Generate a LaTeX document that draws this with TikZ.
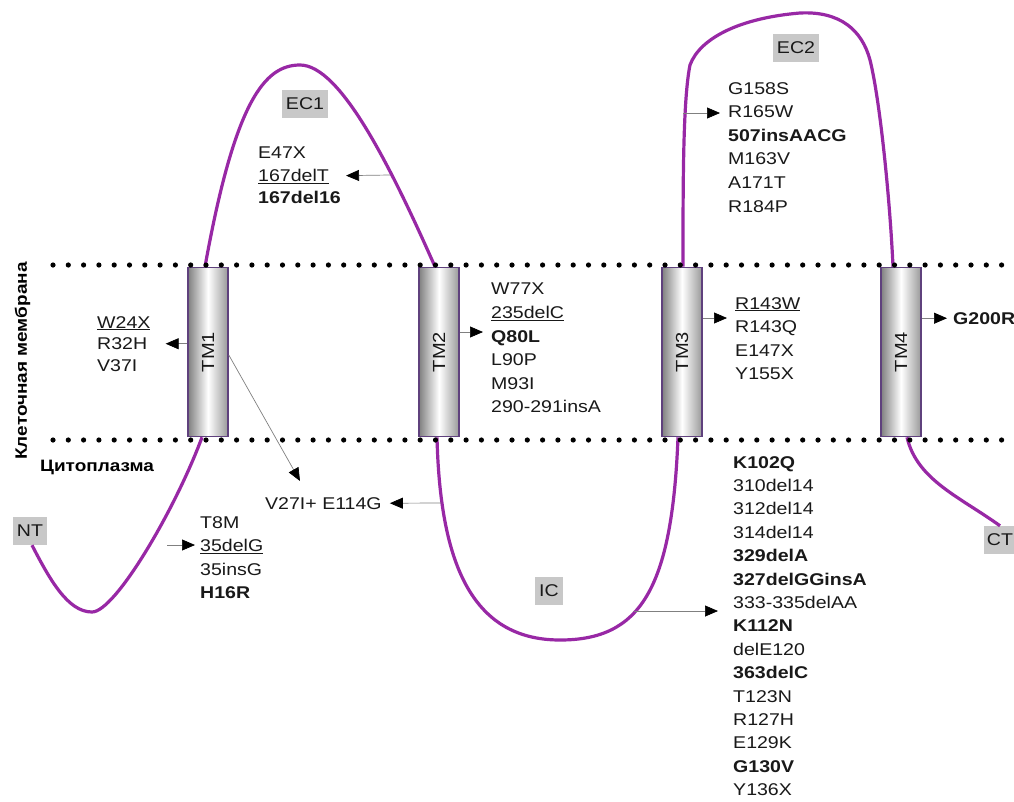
\documentclass[tikz,border=0pt]{standalone}
\usepackage{fontspec}
\setmainfont[FakeStretch=1.15]{Liberation Sans}
\usetikzlibrary{arrows.meta,calc}
\definecolor{loopc}{RGB}{152,40,165}
\definecolor{tmedge}{RGB}{95,65,125}
\definecolor{lblgray}{RGB}{200,200,200}
\definecolor{txt}{RGB}{25,25,25}
\begin{document}
\begin{tikzpicture}[x=1pt,y=-1pt,
 chain/.style={draw=loopc, line width=3.2pt},
 tmbox/.style={draw=tmedge, line width=1.6pt, minimum width=40pt, minimum height=169pt, inner sep=0, left color=black!50, right color=black!40, middle color=white},
 tmlabel/.style={rotate=90, font=\fontsize{17.5}{20}\selectfont, text=txt, inner sep=0},
 lbox/.style={fill=lblgray, font=\fontsize{17}{20}\selectfont, text=txt, inner xsep=4pt, inner ysep=7pt, minimum height=28pt},
 mut/.style={font=\fontsize{17}{23.6}\selectfont, align=left, inner sep=0, anchor=north west, text=txt},
 arr/.style={draw=black!50, line width=0.7pt, -{Triangle[length=13pt,width=11pt,black]}},
 mdot/.style={fill=black}
]
\useasboundingbox[fill=white] (0,0) rectangle (1014,801);

% transmembrane boxes (positions)
\path (208,352) node[tmbox] (tm1) {} (439,352) node[tmbox] (tm2) {}
      (682,352) node[tmbox] (tm3) {} (901,352) node[tmbox] (tm4) {};
% labels
\node[lbox] (nt) at (30,531) {NT};
\node[lbox] (ec1) at (305,104) {EC1};
\node[lbox] (ec2) at (796,48) {EC2};
\node[lbox] (ic) at (549,591) {IC};
\node[lbox, inner xsep=3pt] (ct) at (1000,540) {CT};

% chain
\draw[chain] ($(nt.south)+(2,0)$) .. controls (50,580) and (68,612) .. (92,612)
   .. controls (115,612) and (175,510) .. ($(tm1.south)+(-6,0)$);
\draw[chain] ($(tm1.north)+(-3,0)$) .. controls (235,100) and (265,65) .. (300,65)
   .. controls (340,65) and (390,165) .. ($(tm2.north)+(-4,0)$);
\draw[chain] ($(tm2.south)+(-2,0)$) .. controls (440,560) and (470,640) .. (560,640)
   .. controls (640,640) and (672,590) .. ($(tm3.south)+(-4,0)$);
\draw[chain] ($(tm3.north)+(1,0)$) .. controls (683,180) and (683,100) .. (690,65)
   .. controls (700,38) and (740,18) .. (800,13)
   .. controls (840,11) and (862,30) .. (870,60)
   .. controls (880,100) and (890,200) .. ($(tm4.north)+(-8,0)$);
\draw[chain] ($(tm4.south)+(6,0)$) .. controls (917,480) and (960,497) .. (ct.north);

% redraw boxes on top of chain
\path (208,352) node[tmbox] (tm1b) {} (439,352) node[tmbox] (tm2b) {}
      (682,352) node[tmbox] (tm3b) {} (901,352) node[tmbox] (tm4b) {};
\node[tmlabel] (tm1l) at (tm1) {TM1};
\node[tmlabel] (tm2l) at (tm2) {TM2};
\node[tmlabel] (tm3l) at (tm3) {TM3};
\node[tmlabel] (tm4l) at (tm4) {TM4};

% mutation lists
\node[mut, font=\fontsize{17}{21.5}\selectfont] (w24) at (97,316) {\underline{W24X}\\R32H\\V37I};
\node[mut, font=\fontsize{17}{22.5}\selectfont] (e47) at (258,147) {E47X\\\underline{167delT}\\\textbf{167del16}};
\node[mut] (t8m) at (200,516) {T8M\\\underline{35delG}\\35insG\\\textbf{H16R}};
\node[mut] (v27) at (265,497) {V27I+ E114G};
\node[mut] (w77) at (491,283) {W77X\\\underline{235delC}\\\textbf{Q80L}\\L90P\\M93I\\290-291insA};
\node[mut] (r143) at (735,297) {\underline{R143W}\\R143Q\\E147X\\Y155X};
\node[mut] (g200) at (953,312) {\textbf{G200R}};
\node[mut] (g158) at (728,82) {G158S\\R165W\\\textbf{507insAACG}\\M163V\\A171T\\R184P};
\node[mut, font=\fontsize{17}{23.4}\selectfont] (k102) at (733,456) {\textbf{K102Q}\\310del14\\312del14\\314del14\\\textbf{329delA}\\\textbf{327delGGinsA}\\333-335delAA\\\textbf{K112N}\\delE120\\\textbf{363delC}\\T123N\\R127H\\E129K\\\textbf{G130V}\\Y136X};

% side labels
\node[rotate=90, anchor=base, font=\bfseries\fontsize{16.5}{20}\selectfont, text=black, inner sep=0] (memb) at (27,361) {Клеточная мембрана};
\node[anchor=base west, font=\bfseries\fontsize{16.5}{20}\selectfont, text=black, inner sep=0] (cyto) at (40,471) {Цитоплазма};

% arrow start points on the chain
\coordinate (ec1p) at (390,175);
\coordinate (ntp) at (167,545);
\coordinate (icl) at (441,503);
\coordinate (ec2p) at (683,113);
\coordinate (icr) at (634,611);

% arrows
\draw[arr] (tm1.west |- w24.east) -- ([xshift=15pt]w24.east);
\draw[arr] (ec1p) -- ([xshift=5pt]e47.east);
\draw[arr] (ntp) -- ($(t8m.north west)+(-5,29)$);
\draw[arr] ($(tm1.east)+(0,3)$) -- ($(v27.north west)+(35,-16)$);
\draw[arr] (icl) -- ([xshift=8pt]v27.east);
\draw[arr] ($(tm2.east)+(0,-20)$) -- ($(w77.north west)+(-8,49)$);
\draw[arr] ($(tm3.east)+(0,-34)$) -- ($(r143.north west)+(-8,21)$);
\draw[arr] (tm4.east |- g200.west) -- ([xshift=-6pt]g200.west);
\draw[arr] (ec2p) -- ($(g158.north west)+(-8,31)$);
\draw[arr] (icr) -- ($(k102.north west)+(-15,155)$);

% membrane dotted borders
\foreach \i in {0,...,63} {
  \fill[mdot] (53+15.3*\i,265) circle (2.6pt);
  \fill[mdot] (53+15.3*\i,440) circle (2.6pt);
}
\end{tikzpicture}
\end{document}
